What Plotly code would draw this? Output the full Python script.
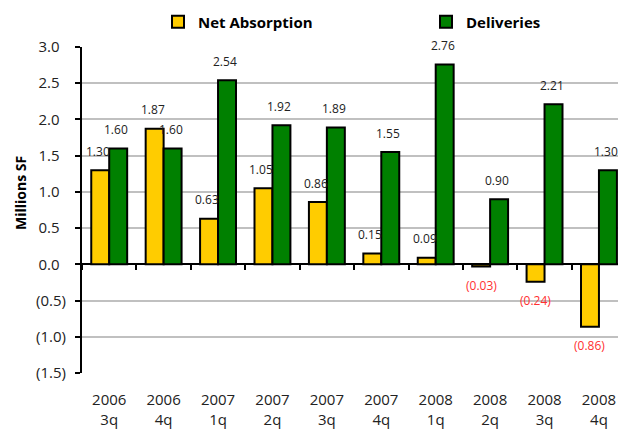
import plotly.graph_objects as go

categories = ["2006<br>3q", "2006<br>4q", "2007<br>1q", "2007<br>2q", "2007<br>3q",
              "2007<br>4q", "2008<br>1q", "2008<br>2q", "2008<br>3q", "2008<br>4q"]
net_absorption = [1.30, 1.87, 0.63, 1.05, 0.86, 0.15, 0.09, -0.03, -0.24, -0.86]
deliveries = [1.60, 1.60, 2.54, 1.92, 1.89, 1.55, 2.76, 0.90, 2.21, 1.30]
ytick_vals = [-1.5, -1.0, -0.5, 0.0, 0.5, 1.0, 1.5, 2.0, 2.5, 3.0]
y_title = "Millions SF"


def fmt(v):
    return f"({abs(v):.2f})" if v < 0 else f"{v:.2f}"


def fmt_tick(v):
    return f"({abs(v):.1f})" if v < 0 else f"{v:.1f}\u00a0\u2009"


FONT = "Open Sans"
fig = go.Figure()
fig.add_trace(go.Bar(x=categories, y=net_absorption, name="Net Absorption",
                     marker=dict(color="#FFCC00", line=dict(color="black", width=2)),
                     offsetgroup="a", legend="legend"))
fig.add_trace(go.Bar(x=categories, y=deliveries, name="Deliveries",
                     marker=dict(color="#008000", line=dict(color="black", width=2)),
                     offsetgroup="b", legend="legend2"))

annotations = []
for i, c in enumerate(categories):
    for v, dx in ((net_absorption[i], -9), (deliveries[i], 9)):
        neg = v < 0
        annotations.append(dict(
            x=i, y=v, xref="x", yref="y", text=fmt(v), showarrow=False,
            xshift=dx - (2 if not neg else 0), yshift=-19 if neg else 19,
            font=dict(family=FONT, size=12, color="#FF3030" if neg else "#222222")))

# y-axis title (placed slightly above the axis centre, as in the original)
annotations.append(dict(text=f"<b>{y_title}</b>", xref="paper", yref="paper",
                        x=-62 / 536, y=180 / 326, xanchor="center", yanchor="middle",
                        textangle=-90, showarrow=False,
                        font=dict(family=FONT, size=14, color="black")))

legend_common = dict(orientation="h", xref="container", yref="container",
                     y=0.949, xanchor="left", yanchor="middle", itemwidth=30,
                     font=dict(family=FONT, size=15, color="black", weight="bold"))

fig.update_layout(
    width=618, height=430,
    margin=dict(l=82, r=0, t=47, b=57, autoexpand=False),
    paper_bgcolor="white", plot_bgcolor="white",
    barmode="group", bargap=0.34, bargroupgap=0,
    font=dict(family=FONT, size=15, color="#222222"),
    showlegend=True,
    legend=dict(x=158 / 618, **legend_common),
    legend2=dict(x=426 / 618, **legend_common),
    annotations=annotations,
    xaxis=dict(type="category", range=[-0.5, 9.35], showgrid=False, showline=False,
               ticks="", ticklabelstandoff=16,
               tickfont=dict(family=FONT, size=15, color="#222222")),
    xaxis2=dict(overlaying="x", anchor="free", position=1.5 / 4.5, range=[-0.5, 9.35],
                tickmode="array", tickvals=[i - 0.5 for i in range(11)],
                ticks="outside", ticklen=5, tickwidth=2, tickcolor="black",
                showticklabels=False, showgrid=False, showline=False, zeroline=False),
    yaxis=dict(range=[-1.5, 3.0], tickmode="array", tickvals=ytick_vals,
               ticktext=[fmt_tick(v) for v in ytick_vals],
               showgrid=True, gridcolor="#C0C0C0", gridwidth=2,
               zeroline=True, zerolinecolor="black", zerolinewidth=2,
               showline=True, linecolor="black", linewidth=2,
               ticks="outside", ticklen=5, tickwidth=2, tickcolor="black",
               ticklabelstandoff=6,
               tickfont=dict(family=FONT, size=15, color="#222222")),
)
fig.add_trace(go.Scatter(x=[None], y=[None], xaxis="x2", showlegend=False, hoverinfo="skip"))
fig.write_html("out.html")
